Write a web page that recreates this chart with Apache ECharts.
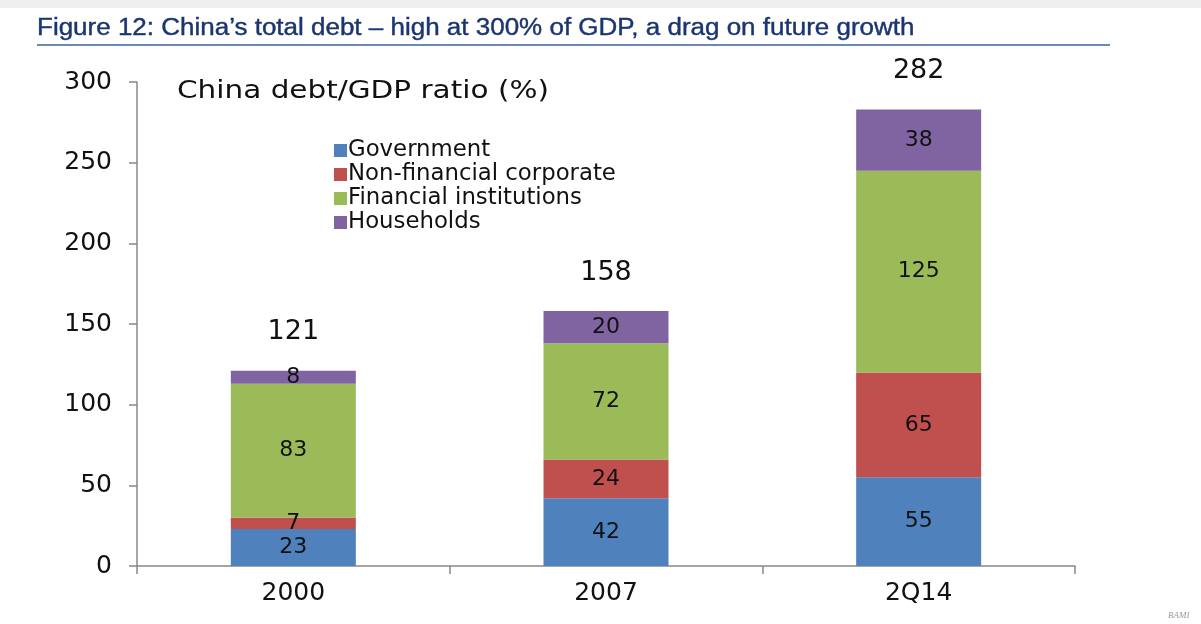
<!DOCTYPE html>
<html><head><meta charset="utf-8">
<script src="https://cdn.jsdelivr.net/npm/echarts@6/dist/echarts.min.js"></script>
<style>html,body{margin:0;padding:0;background:#fff}#c{width:1201px;height:624px}</style>
</head><body><div id="c"></div>
<script>
var categories = ['2000', '2007', '2Q14'];
var government = [23, 42, 55];
var nonFinancial = [7, 24, 65];
var financial = [83, 72, 125];
var households = [8, 20, 38];
var totals = [121, 158, 282];
var yTicks = [0, 50, 100, 150, 200, 250, 300];

var chart = echarts.init(document.getElementById('c'));
var F = '"DejaVu Sans", Verdana, sans-serif';
function seg(name, data, color) {
  return {
    name: name, type: 'bar', stack: 'debt', data: data, barWidth: 125,
    itemStyle: { color: color },
    label: { show: true, position: 'inside', color: '#111', fontSize: 22, fontFamily: F }
  };
}
chart.setOption({
  animation: false,
  textStyle: { fontFamily: F },
  graphic: [
    { type: 'rect', shape: { x: 0, y: 0, width: 1201, height: 8 }, style: { fill: '#efefef' } },
    { type: 'text', x: 37, y: 17, scaleX: 1.13, style: { text: 'Figure 12: China\u2019s total debt \u2013 high at 300% of GDP, a drag on future growth', fill: '#1a3570', stroke: '#1a3570', lineWidth: 0.4, font: '23px "Liberation Sans", Arial, sans-serif' } },
    { type: 'line', shape: { x1: 37, y1: 45, x2: 1110, y2: 45 }, style: { stroke: '#3a62a0', lineWidth: 1.5 } },
    { type: 'text', x: 177, y: 79, scaleX: 1.18, style: { text: 'China debt/GDP ratio (%)', fill: '#111', font: '25px "DejaVu Sans", Verdana, sans-serif' } },
    { type: 'text', x: 1168, y: 611, style: { text: 'BAMI', fill: '#999', font: 'italic 9px "Liberation Serif", serif' } }
  ],
  legend: {
    data: ['Government', 'Non-financial corporate', 'Financial institutions', 'Households'],
    orient: 'vertical', left: 329, top: 134, itemWidth: 13, itemHeight: 13, itemGap: 1,
    icon: 'rect',
    textStyle: { fontSize: 22.8, color: '#111', padding: [0, 0, 0, -4] }
  },
  grid: { left: 137, right: 126, top: 82, bottom: 58 },
  xAxis: {
    type: 'category', data: categories,
    axisLine: { lineStyle: { color: '#888', width: 1.5 } },
    axisTick: { show: true, length: 8, lineStyle: { color: '#888', width: 1.5 } },
    axisLabel: { fontSize: 25, color: '#111', margin: 15 }
  },
  yAxis: {
    type: 'value', min: 0, max: 300, interval: 50,
    splitLine: { show: false },
    axisLine: { show: true, lineStyle: { color: '#888', width: 1.5 } },
    axisTick: { show: true, length: 8, lineStyle: { color: '#888', width: 1.5 } },
    axisLabel: { fontSize: 25, color: '#111', margin: 25,
      formatter: function (v) { return yTicks.indexOf(v) >= 0 ? String(v) : ''; } }
  },
  series: [
    seg('Government', government, '#4f81bd'),
    seg('Non-financial corporate', nonFinancial, '#c0504d'),
    seg('Financial institutions', financial, '#9bbb59'),
    seg('Households', households, '#8064a2'),
    {
      name: 'Total', type: 'bar', stack: 'debt', barWidth: 125,
      data: totals.map(function () { return 0; }),
      itemStyle: { color: 'rgba(0,0,0,0)' },
      label: { show: true, position: 'top', distance: 25, fontSize: 27, color: '#111', fontFamily: F,
        formatter: function (p) { return String(totals[p.dataIndex]); } }
    }
  ]
});
</script></body></html>
